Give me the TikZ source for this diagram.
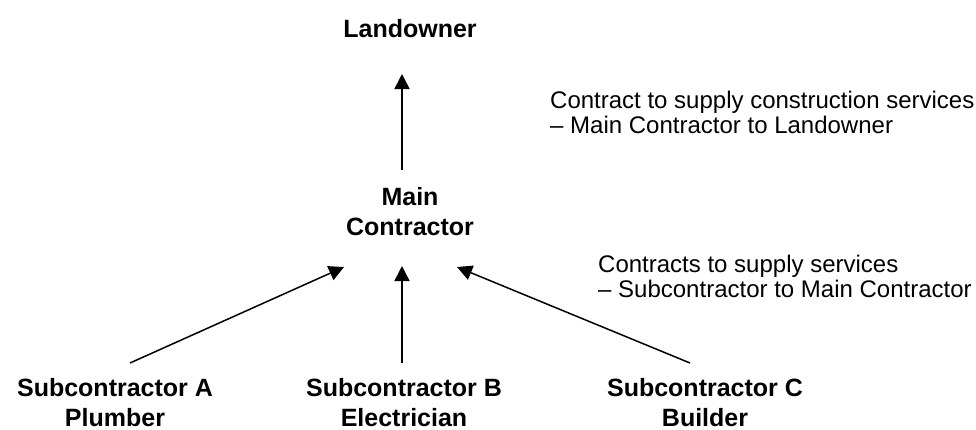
\documentclass[tikz,border=0pt]{standalone}
\usepackage{fontspec}
\setmainfont{Liberation Sans}
\usetikzlibrary{arrows.meta}
\tikzset{
  party/.style={align=center, anchor=base, inner sep=0pt, font=\fontsize{25}{30}\selectfont\bfseries},
  note/.style={align=left, anchor=base west, inner sep=0pt, font=\fontsize{24}{25.5}\selectfont},
  link/.style={line width=1.5pt, -{Triangle[length=15pt,width=15pt]}}
}
\begin{document}
\begin{tikzpicture}[x=1pt,y=-1pt]
\useasboundingbox (0,0) rectangle (976,429);
\node[party] (land) at (410,37) {Landowner};
\node[party] (main) at (410,235) {Main\\Contractor};
\node[party, text depth=0pt] (subA) at (115,426) {Subcontractor A\\Plumber};
\node[party, text depth=0pt] (subB) at (404,426) {Subcontractor B\\Electrician};
\node[party, text depth=0pt] (subC) at (705,426) {Subcontractor C\\Builder};
\node[note] (n1) at (550,133.5) {Contract to supply construction services\\– Main Contractor to Landowner};
\node[note] (n2) at (598,297.5) {Contracts to supply services\\– Subcontractor to Main Contractor};
\coordinate (mUp) at (402,170);
\coordinate (lDown) at (402,74);
\coordinate (aS) at (130,363);
\coordinate (aE) at (344,267);
\coordinate (bS) at (402,363);
\coordinate (bE) at (402,266);
\coordinate (cS) at (690,363);
\coordinate (cE) at (457,267);
\draw[link] (mUp) -- (lDown);
\draw[link] (aS) -- (aE);
\draw[link] (bS) -- (bE);
\draw[link] (cS) -- (cE);
\end{tikzpicture}
\end{document}
